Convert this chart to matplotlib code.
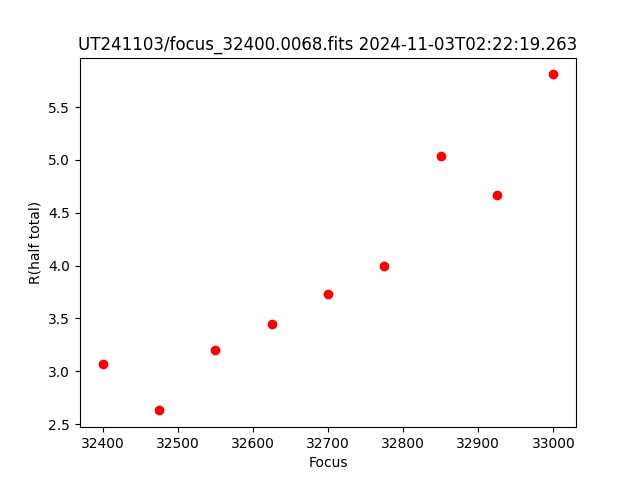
import matplotlib
matplotlib.use("Agg")
import matplotlib.pyplot as plt

focus = [32400, 32475, 32550, 32625, 32700, 32775, 32850, 32925, 33000]
r_half = [3.07, 2.63, 3.20, 3.45, 3.73, 4.00, 5.04, 4.67, 5.81]

fig, ax = plt.subplots(figsize=(6.4, 4.8), dpi=100)
ax.plot(focus, r_half, 'ro')
ax.set_xlabel("Focus")
ax.set_ylabel("R(half total)")
ax.set_title("UT241103/focus_32400.0068.fits 2024-11-03T02:22:19.263")
fig.savefig("out.png")
